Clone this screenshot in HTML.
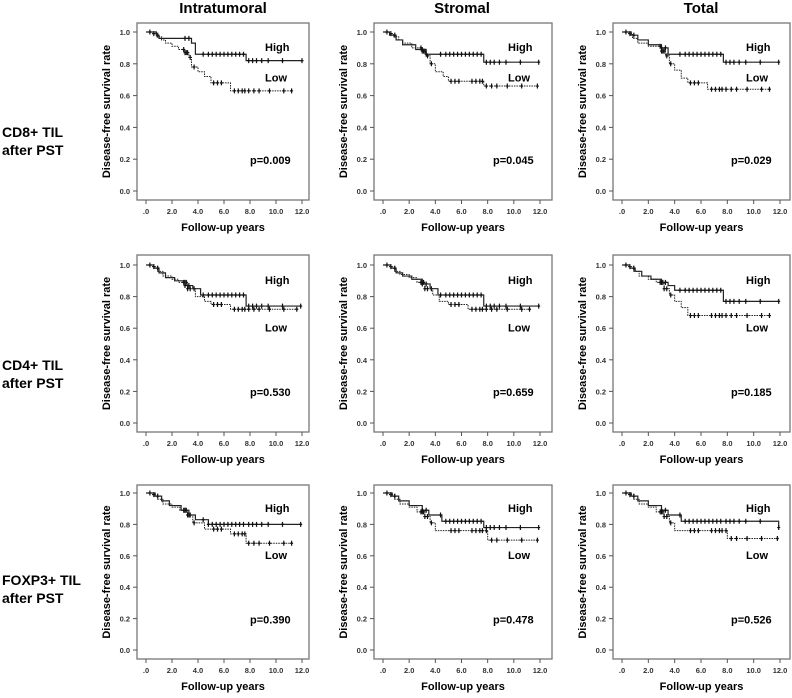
<!DOCTYPE html>
<html><head><meta charset="utf-8">
<style>
body{margin:0;background:#fff;width:792px;height:693px;overflow:hidden;font-family:"Liberation Sans",Arial,sans-serif}
svg text{font-family:"Liberation Sans",Arial,sans-serif}
</style></head>
<body>
<svg id="fig" width="792" height="693" viewBox="0 0 792 693" xmlns="http://www.w3.org/2000/svg">
<text x="2" y="137" font-size="14" font-weight="bold">CD8+ TIL</text>
<text x="2" y="155" font-size="14" font-weight="bold">after PST</text>
<text x="2" y="370" font-size="14" font-weight="bold">CD4+ TIL</text>
<text x="2" y="388" font-size="14" font-weight="bold">after PST</text>
<text x="2" y="585" font-size="14" font-weight="bold">FOXP3+ TIL</text>
<text x="2" y="603" font-size="14" font-weight="bold">after PST</text>
<text x="223" y="13" font-size="15" font-weight="bold" text-anchor="middle">Intratumoral</text>
<text x="462" y="13" font-size="15" font-weight="bold" text-anchor="middle">Stromal</text>
<text x="701" y="13" font-size="15" font-weight="bold" text-anchor="middle">Total</text>
</svg>
<script>
const xTicks=[0,2,4,6,8,10,12];
const xTickLabels=['.0','2.0','4.0','6.0','8.0','10.0','12.0'];
const yTicks=[0,0.2,0.4,0.6,0.8,1.0];
const yTickLabels=['0.0','0.2','0.4','0.6','0.8','1.0'];
const pValues=['p=0.009','p=0.045','p=0.029','p=0.530','p=0.659','p=0.185','p=0.390','p=0.478','p=0.526'];
const highT=[
[0,0.8,1.0,3.5,3.8,7.7,12],
[0,0.5,1.0,1.5,2.5,3.3,7.7,11.9],
[0,0.7,1.2,2.0,3.0,3.5,7.7,11.9],
[0,0.6,1.0,1.5,2.2,3.0,3.6,4.2,7.7,11.9],
[0,0.6,1.0,1.5,2.2,3.0,3.6,4.2,7.7,11.9],
[0,0.6,1.0,1.5,2.2,3.0,3.5,4.0,7.7,11.9],
[0,0.7,1.2,1.8,2.7,3.3,3.8,4.8,11.9],
[0,0.7,1.2,2.0,3.0,3.5,4.5,7.7,11.9],
[0,0.7,1.2,2.0,3.0,3.5,4.5,11.9]];
const highS=[
[1,0.98,0.96,0.93,0.86,0.82,0.82],
[1,0.98,0.95,0.92,0.89,0.86,0.81,0.81],
[1,0.98,0.95,0.92,0.90,0.86,0.81,0.81],
[1,0.98,0.95,0.92,0.90,0.87,0.85,0.81,0.74,0.74],
[1,0.98,0.95,0.93,0.91,0.88,0.85,0.81,0.74,0.74],
[1,0.98,0.96,0.93,0.91,0.89,0.87,0.84,0.77,0.77],
[1,0.98,0.95,0.92,0.89,0.86,0.83,0.80,0.80],
[1,0.98,0.95,0.92,0.89,0.86,0.82,0.78,0.78],
[1,0.98,0.95,0.92,0.89,0.86,0.82,0.78,0.78]];
const lowT=[
[0,0.5,0.8,1.2,1.5,2.0,2.5,3.0,3.3,3.5,4.0,4.5,5.0,6.5,11.2],
[0,0.5,0.8,1.2,1.5,2.2,3.0,3.3,3.6,4.0,4.6,5.0,7.7,11.8],
[0,0.5,0.8,1.2,2.0,3.0,3.3,3.6,4.0,4.5,5.0,6.5,11.2],
[0,0.5,0.9,1.3,2.0,2.5,3.2,3.8,4.5,5.0,6.5,11.6],
[0,0.5,0.9,1.3,2.0,2.6,3.2,3.8,4.3,5.0,6.5,11.2],
[0,0.5,0.9,1.3,2.0,2.6,3.2,3.6,4.0,4.5,5.0,11.2],
[0,0.5,0.9,1.3,2.0,2.6,3.2,3.6,4.5,6.5,7.7,11.2],
[0,0.5,0.9,1.3,2.0,2.6,3.2,3.6,4.0,8.0,11.8],
[0,0.5,0.9,1.3,2.0,2.6,3.2,3.6,4.0,8.0,11.8]];
const lowS=[
[1,0.99,0.97,0.95,0.93,0.91,0.89,0.87,0.84,0.78,0.75,0.72,0.68,0.63,0.63],
[1,0.99,0.97,0.95,0.93,0.90,0.88,0.85,0.80,0.75,0.72,0.69,0.66,0.66],
[1,0.99,0.96,0.93,0.91,0.88,0.85,0.80,0.76,0.71,0.68,0.64,0.64],
[1,0.99,0.96,0.93,0.91,0.89,0.85,0.80,0.77,0.75,0.72,0.72],
[1,0.99,0.96,0.94,0.92,0.89,0.85,0.81,0.77,0.75,0.72,0.72],
[1,0.99,0.96,0.93,0.91,0.89,0.85,0.81,0.77,0.73,0.68,0.68],
[1,0.99,0.96,0.93,0.91,0.89,0.86,0.81,0.77,0.74,0.68,0.68],
[1,0.99,0.96,0.93,0.91,0.88,0.85,0.81,0.76,0.70,0.70],
[1,0.99,0.96,0.93,0.91,0.88,0.85,0.81,0.76,0.71,0.71]];
const highC=[0.3,0.9,3.0,3.3,4.4,4.8,5.1,5.4,5.7,6.0,6.3,6.6,6.9,7.2,7.5,7.9,8.2,8.5,8.9,9.4,10.5];
const lowC=[0.6,2.9,3.0,3.1,3.2,3.4,3.7,5.2,5.5,5.8,6.8,7.1,7.4,7.6,7.9,8.3,8.7,9.5,10.6];
const colX=[[137,309,146,302],[374,552,383,540],[613,790,622,780]];
const rowY=[[23,200,32,191],[255,432,265,423],[485,659,493,650]];
const NS='http://www.w3.org/2000/svg';
const svg=document.getElementById('fig');
function mk(tag,attrs,parent){const e=document.createElementNS(NS,tag);for(const k in attrs)e.setAttribute(k,attrs[k]);(parent||svg).appendChild(e);return e;}
function sAt(T,S,t){let s=S[0];for(let i=0;i<T.length;i++){if(T[i]<=t)s=S[i];}return s;}
for(let p=0;p<9;p++){
  const r=Math.floor(p/3),c=p%3;
  const [bx0,bx1,x0,x12]=colX[c],[by0,by1,y1,y0]=rowY[r];
  const sx=t=>x0+(x12-x0)*t/12, sy=v=>y0-(y0-y1)*v;
  const g=mk('g',{});
  
  
  const box=mk('rect',{x:bx0,y:by0,width:bx1-bx0,height:by1-by0,fill:'none',stroke:'#777','stroke-width':1.3},g);
  
  
  yTicks.forEach((v,i)=>{
    mk('line',{x1:bx0-4,x2:bx0,y1:sy(v),y2:sy(v),stroke:'#555'},g);
    const t=mk('text',{x:bx0-7,y:sy(v)+3,'font-size':7.5,'text-anchor':'end','font-weight':'bold',fill:'#333'},g);
    t.textContent=yTickLabels[i];
    
    
  });
  xTicks.forEach((v,i)=>{
    mk('line',{x1:sx(v),x2:sx(v),y1:by1,y2:by1+4,stroke:'#555'},g);
    const t=mk('text',{x:sx(v),y:by1+14,'font-size':7.5,'text-anchor':'middle','font-weight':'bold',fill:'#333'},g);
    t.textContent=xTickLabels[i];
    
    
  });
  const xt=mk('text',{x:(bx0+bx1)/2,y:by1+31,'font-size':11,'font-weight':'bold','text-anchor':'middle'},g);
  xt.textContent='Follow-up years';
  
  
  const yx=bx0-27, yy=(by0+by1)/2;
  const yt=mk('text',{x:yx,y:yy,'font-size':11,'font-weight':'bold','text-anchor':'middle',transform:`rotate(-90 ${yx} ${yy})`},g);
  yt.textContent='Disease-free survival rate';
  
  
  function curve(T,S,C,dash,name){
    let d=`M${sx(T[0])},${sy(S[0])}`;
    for(let i=1;i<T.length;i++){d+=` H${sx(T[i])} V${sy(S[i])}`;}
    const pth=mk('path',{d:d,fill:'none',stroke:'#222','stroke-width':dash?1:1.2,'stroke-dasharray':dash?'1.5,1':'none'},g);
    
    
    const tEnd=T[T.length-1];
    C.filter(t=>t<=tEnd).concat([tEnd]).forEach(t=>{
      const x=sx(t),y=sy(sAt(T,S,t));
      const m=mk('path',{d:`M${x},${y-2.5} V${y+2.5} M${x-1.5},${y} H${x+1.5}`,stroke:'#111','stroke-width':1.2},g);
      
      
    });
  }
  curve(lowT[p],lowS[p],lowC,true,'low');
  curve(highT[p],highS[p],highC,false,'high');
  const hl=mk('text',{x:bx1-44,y:sy(0.88),'font-size':11,'font-weight':'bold'},g);
  hl.textContent='High';
  
  
  const ll=mk('text',{x:bx1-44,y:r==0?sy(0.69):sy(0.58),'font-size':11,'font-weight':'bold'},g);
  ll.textContent='Low';
  
  
  const pv=mk('text',{x:bx1-59,y:sy(0.17),'font-size':11,'font-weight':'bold'},g);
  pv.textContent=pValues[p];
  
  
}
</script>
</body></html>
